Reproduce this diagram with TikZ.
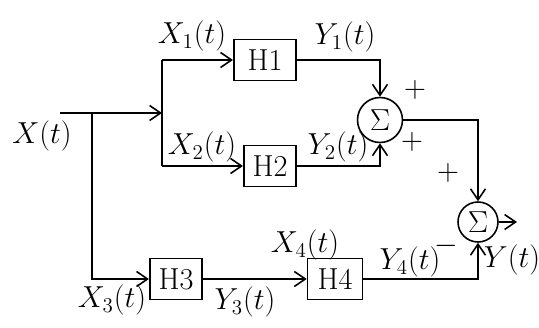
\documentclass[tikz,border=0pt]{standalone}
\usepackage{tikz}
\usepackage{amsmath}
\usetikzlibrary{arrows.meta,positioning,calc}

\begin{document}
\begin{tikzpicture}[x=0.02cm,y=-0.02cm,font=\LARGE,
        b/.style={draw,line width=0.9pt,minimum width=1.05cm,minimum height=0.82cm,inner sep=1pt},
        s/.style={draw,circle,line width=0.9pt,minimum size=0.9cm,inner sep=0pt},
        a/.style={-{Straight Barb[length=2.2mm,width=3mm]},line width=0.9pt},
        l/.style={line width=0.9pt}]
        \useasboundingbox (0,0) rectangle (539,328);
        % blocks and summers
        \node[b,minimum width=1.25cm] (h1) at (265,60) {H1};
        \node[b] (h2) at (270,166) {H2};
        \node[b] (h3) at (176,279) {H3};
        \node[b,minimum width=1.1cm] (h4) at (335,279) {H4};
        \node[s] (s1) at (380,120) {$\Sigma$};
        \node[s,minimum size=0.8cm] (s2) at (478,222) {$\Sigma$};
        % branch points
        \coordinate (in) at (60,113); \coordinate (j) at (92,113);
        \coordinate (bm) at (162,113); \coordinate (bt) at (162,60); \coordinate (bb) at (162,166);
        \coordinate (out) at (517,222);
        \draw[l] (in)--(j); \draw[a] (j)--(bm); \draw[l] (bt)--(bb);
        \draw[a] (bt)--(h1); \draw[a] (bb)--(h2);
        \draw[a] (j)|-(h3); \draw[a] (h3)--(h4);
        \draw[a] (h1)-|(s1); \draw[a] (h2)-|(s1);
        \draw[a] (s1)-|(s2); \draw[a] (h4)-|(s2); \draw[a] (s2)--(out);
        % labels
        \node (lx) at (42,136) {$X(t)$};
        \node (lx1) at (192,36) {$X_1(t)$};
        \node (lx2) at (202,147) {$X_2(t)$};
        \node (ly1) at (345,37) {$Y_1(t)$};
        \node (ly2) at (338,147) {$Y_2(t)$};
        \node (p1) at (415,90) {$+$};
        \node (p2) at (412,142) {$+$};
        \node (p3) at (448,173) {$+$};
        \node (m1) at (446,246) {$-$};
        \node (ly) at (512,260) {$Y(t)$};
        \node (lx3) at (112,300) {$X_3(t)$};
        \node (ly3) at (245,302) {$Y_3(t)$};
        \node (lx4) at (305,245) {$X_4(t)$};
        \node (ly4) at (410,262) {$Y_4(t)$};
      \end{tikzpicture}
\end{document}
